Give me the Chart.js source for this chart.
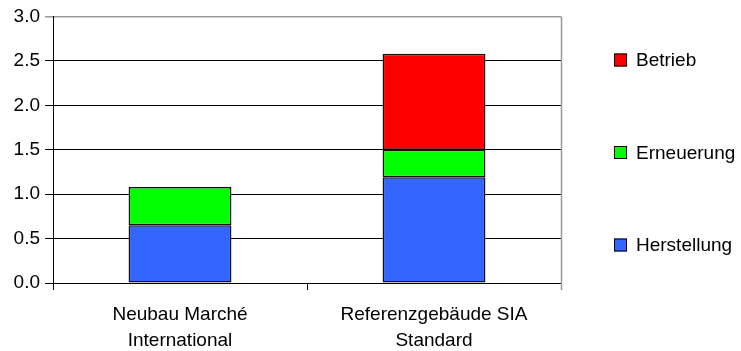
<!DOCTYPE html>
<html>
<head>
<meta charset="utf-8">
<script src="https://cdn.jsdelivr.net/npm/chart.js@4/dist/chart.umd.min.js"></script>
<style>
  html, body { margin: 0; padding: 0; background: #fff; }
  #wrap { width: 741px; height: 351px; position: relative; }
</style>
</head>
<body>
<div id="wrap"><canvas id="c" width="741" height="351"></canvas></div>
<script>
// Categories (multi-line axis labels)
const categories = [
  ['Neubau Marché', 'International'],
  ['Referenzgebäude SIA', 'Standard']
];

// Stacked series, bottom to top
const herstellung = [0.65, 1.19];
const erneuerung  = [0.43, 0.31];
const betrieb     = [null, 1.08];

const seriesNames  = ['Herstellung', 'Erneuerung', 'Betrieb'];
const seriesColors = ['#3366FF', '#00FF00', '#FF0000'];

// Value axis
const yMin = 0, yMax = 3, yStep = 0.5;

const FONT = '"Liberation Sans", Arial, sans-serif';

// Legend on the right, top item is the top of the stack
const sideLegend = {
  id: 'sideLegend',
  afterDraw(chart) {
    const ctx = chart.ctx;
    const ds = chart.data.datasets.slice().reverse();
    const x0 = 614, y0 = 60, step = 92.5, box = 13;
    ctx.save();
    ctx.font = '19px ' + FONT;
    ctx.textBaseline = 'middle';
    ctx.textAlign = 'left';
    ds.forEach((d, i) => {
      const cy = y0 + i * step;
      ctx.fillStyle = d.backgroundColor;
      ctx.fillRect(x0, cy - box / 2, box, box);
      ctx.strokeStyle = '#000';
      ctx.lineWidth = 1;
      ctx.strokeRect(x0 + 0.5, cy - box / 2 + 0.5, box - 1, box - 1);
      ctx.fillStyle = '#000';
      ctx.fillText(d.label, x0 + 22, cy + 1);
    });
    ctx.restore();
  }
};

// Grey frame on the right side of the plot area
const plotFrame = {
  id: 'plotFrame',
  afterDatasetsDraw(chart) {
    const a = chart.chartArea, ctx = chart.ctx;
    ctx.save();
    ctx.strokeStyle = '#999';
    ctx.lineWidth = 1.5;
    ctx.beginPath();
    ctx.moveTo(Math.round(a.right) + 0.5, a.top);
    ctx.lineTo(Math.round(a.right) + 0.5, a.bottom + 7);
    ctx.stroke();
    ctx.restore();
  }
};

const values = [herstellung, erneuerung, betrieb];

new Chart(document.getElementById('c'), {
  type: 'bar',
  data: {
    labels: categories,
    datasets: values.map((v, i) => ({
      label: seriesNames[i],
      data: v,
      backgroundColor: seriesColors[i],
      borderColor: '#111',
      borderWidth: 1.5,
      borderSkipped: false,
      categoryPercentage: 1,
      barPercentage: 0.405
    }))
  },
  options: {
    responsive: false,
    animation: false,
    devicePixelRatio: 1,
    layout: { padding: { left: 0, right: 180, top: 16, bottom: 0 } },
    plugins: {
      legend: { display: false },
      tooltip: { enabled: false }
    },
    scales: {
      x: {
        stacked: true,
        offset: true,
        grid: {
          offset: true,
          drawOnChartArea: false,
          tickLength: 7,
          color: (c) => (c.index === categories.length ? '#999' : '#000'),
          lineWidth: 1
        },
        border: { display: true, color: '#000', width: 1 },
        ticks: {
          color: '#000',
          font: { family: FONT, size: 19, lineHeight: 1.37 },
          padding: 12,
          maxRotation: 0
        },
        afterFit: (s) => { s.height = 68; }
      },
      y: {
        stacked: true,
        min: yMin,
        max: yMax,
        grid: {
          tickLength: 8,
          color: (c) => (c.tick && c.tick.value === yMax ? '#999' : '#000'),
          lineWidth: (c) => (c.tick && c.tick.value === yMax ? 1.5 : 1)
        },
        border: { display: true, color: '#000', width: 1 },
        ticks: {
          stepSize: yStep,
          color: '#000',
          font: { family: FONT, size: 19 },
          padding: 5,
          callback: (v) => Number(v).toFixed(1)
        },
        afterFit: (s) => { s.width = 53; }
      }
    }
  },
  plugins: [plotFrame, sideLegend]
});
</script>
</body>
</html>
